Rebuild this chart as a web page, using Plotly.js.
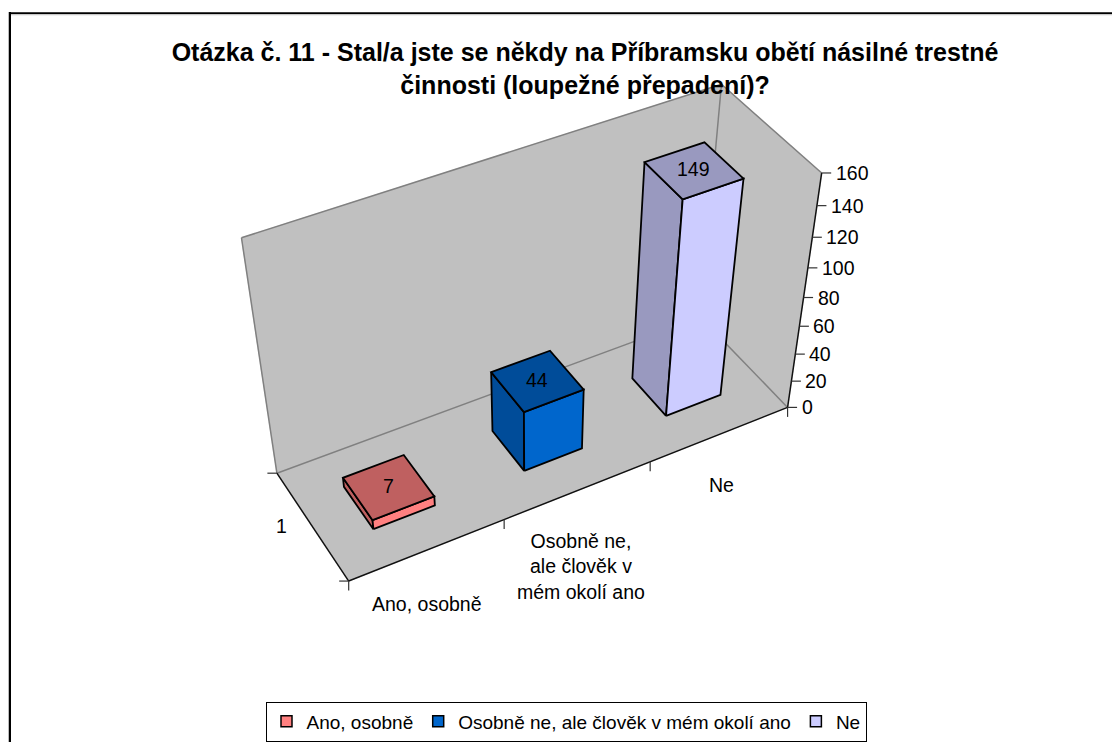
<!DOCTYPE html><html><head><meta charset="utf-8"><script src="https://cdn.plot.ly/plotly-3.0.1.min.js"></script>
<style>html,body{margin:0;padding:0;background:#fff;overflow:hidden}</style></head><body><div id="c" style="width:1112px;height:742px"></div><script>
const chartTitle='Otázka č. 11 - Stal/a jste se někdy na Příbramsku obětí násilné trestné<br>činnosti (loupežné přepadení)?';
const categories=['Ano, osobně','Osobně ne, ale člověk v mém okolí ano','Ne'];
const categoryTickLabels=['Ano, osobně','Osobně ne,<br>ale člověk v<br>mém okolí ano','Ne'];
const values=[7,44,149];
const valueTicks=[0,20,40,60,80,100,120,140,160];
const depthLabel='1';

const faceColors=['#FF8080','#0066CC','#CCCCFF'];
const shadeColors=['#BF6060','#004C99','#9999BF'];
const labelPositions=[[427,604],[581,566],[721,485]];
const FONT='"Liberation Sans", Arial, sans-serif';
const TXT=19.5;

// perspective camera fitted to the box: (category position, depth, value) -> plot coordinates
const P=[171.75097,-56.101271,-0.42858739,348.68640,-44.726743,-81.065359,-1.7465845,581.07344,0.032315939,0.056675547,-0.00080609619];
function proj(c,d,v){const w=P[8]*c+P[9]*d+P[10]*v+1;return [(P[0]*c+P[1]*d+P[2]*v+P[3])/w,(P[4]*c+P[5]*d+P[6]*v+P[7])/w];}
const vMax=valueTicks[valueTicks.length-1], cMax=categories.length;

function poly(corners,fill,line,width){
  const pts=corners.map(a=>proj(...a));pts.push(pts[0]);
  return {x:pts.map(p=>p[0]),y:pts.map(p=>p[1]),mode:'lines',fill:'toself',fillcolor:fill,line:{color:line,width:width},showlegend:false,hoverinfo:'skip'};
}
function seg(list,color,width){
  const x=[],y=[];
  list.forEach(s=>{x.push(s[0][0],s[1][0],null);y.push(s[0][1],s[1][1],null);});
  return {x,y,mode:'lines',line:{color,width},showlegend:false,hoverinfo:'skip'};
}
const WALL='#C0C0C0',EDGE='#808080';
const traces=[];
// walls and floor
traces.push(poly([[0,1,0],[cMax,1,0],[cMax,1,vMax],[0,1,vMax]],WALL,WALL,0.5));
traces.push(poly([[cMax,1,0],[cMax,0,0],[cMax,0,vMax],[cMax,1,vMax]],WALL,WALL,0.5));
traces.push(poly([[0,0,0],[cMax,0,0],[cMax,1,0],[0,1,0]],WALL,WALL,0.5));
traces.push(seg([
 [proj(0,1,0),proj(0,1,vMax)],[proj(0,1,vMax),proj(cMax,1,vMax)],[proj(cMax,1,vMax),proj(cMax,0,vMax)],
 [proj(cMax,1,vMax),proj(cMax,1,0)],[proj(0,1,0),proj(cMax,1,0)],[proj(cMax,1,0),proj(cMax,0,0)]],EDGE,1.5));
// axis lines and tick marks
traces.push(seg([[proj(0,0,0),proj(cMax,0,0)],[proj(0,0,0),proj(0,1,0)],[proj(cMax,0,0),proj(cMax,0,vMax)]],'#111',1.5));
const tickSegs=[];
valueTicks.forEach(t=>{const p=proj(cMax,0,t);tickSegs.push([p,[p[0]+9.5,p[1]]]);});
for(let c=0;c<=cMax;c++){const p=proj(c,0,0);tickSegs.push([p,[p[0],p[1]+9.5]]);}
[0,1].forEach(d=>{const p=proj(0,d,0);tickSegs.push([p,[p[0]-9.5,p[1]]]);});
traces.push(seg(tickSegs,'#333',1.2));
// bars
const barW=0.2;
values.forEach((v,i)=>{
 const a=i+0.5-barW,b=i+0.5+barW,f=0.5-barW,k=0.5+barW;
 traces.push(poly([[a,f,0],[a,k,0],[a,k,v],[a,f,v]],shadeColors[i],'#000',1.8));
 traces.push(poly([[a,f,0],[b,f,0],[b,f,v],[a,f,v]],faceColors[i],'#000',1.8));
 traces.push(poly([[a,f,v],[b,f,v],[b,k,v],[a,k,v]],shadeColors[i],'#000',1.8));
});
// legend entries
categories.forEach((name,i)=>traces.push({x:[null],y:[null],mode:'markers',name,marker:{symbol:'square',size:11,color:faceColors[i],line:{color:'#000',width:1.5}},hoverinfo:'skip'}));

const ann=[];
const txt=(x,y,text,o={})=>ann.push(Object.assign({x,y,text,xref:'x',yref:'y',showarrow:false,align:'center',font:{family:FONT,size:TXT,color:'#000'}},o));
values.forEach((v,i)=>{const p=proj(i+0.5,0.5,v);txt(p[0],p[1]-1,String(v));});
valueTicks.forEach(t=>{const p=proj(cMax,0,t);txt(p[0]+12,p[1],String(t),{xanchor:'left'});});
categoryTickLabels.forEach((t,i)=>txt(labelPositions[i][0],labelPositions[i][1],t));
txt(281,526,depthLabel);

const layout={width:1112,height:742,margin:{l:0,r:0,t:0,b:0,autoexpand:false},paper_bgcolor:'#fff',plot_bgcolor:'#fff',
 title:{text:chartTitle,font:{family:FONT,size:25,color:'#000',weight:'bold'},x:585/1112,xanchor:'center',y:1-61/742,yanchor:'middle'},
 xaxis:{range:[0,1112],visible:false,fixedrange:true},yaxis:{range:[742,0],visible:false,fixedrange:true},
 showlegend:true,
 legend:{orientation:'h',x:566/1112,xanchor:'center',y:1-741.5/742,yanchor:'bottom',bgcolor:'#fff',bordercolor:'#000',borderwidth:1,font:{family:FONT,size:19,color:'#000'}},
 annotations:ann,
 shapes:[
  {type:'line',xref:'x',yref:'y',x0:8.5,x1:8.5,y0:12,y1:742,line:{color:'#bbb',width:1}},
  {type:'line',xref:'x',yref:'y',x0:10,x1:10,y0:12,y1:742,line:{color:'#000',width:2}},
  {type:'line',xref:'x',yref:'y',x0:9,x1:1112,y0:13.3,y1:13.3,line:{color:'#000',width:2}},
  {type:'line',xref:'x',yref:'y',x0:11,x1:1112,y0:14.8,y1:14.8,line:{color:'#ccc',width:1}}
 ]};
Plotly.newPlot('c',traces,layout,{displayModeBar:false,staticPlot:true});
</script></body></html>
